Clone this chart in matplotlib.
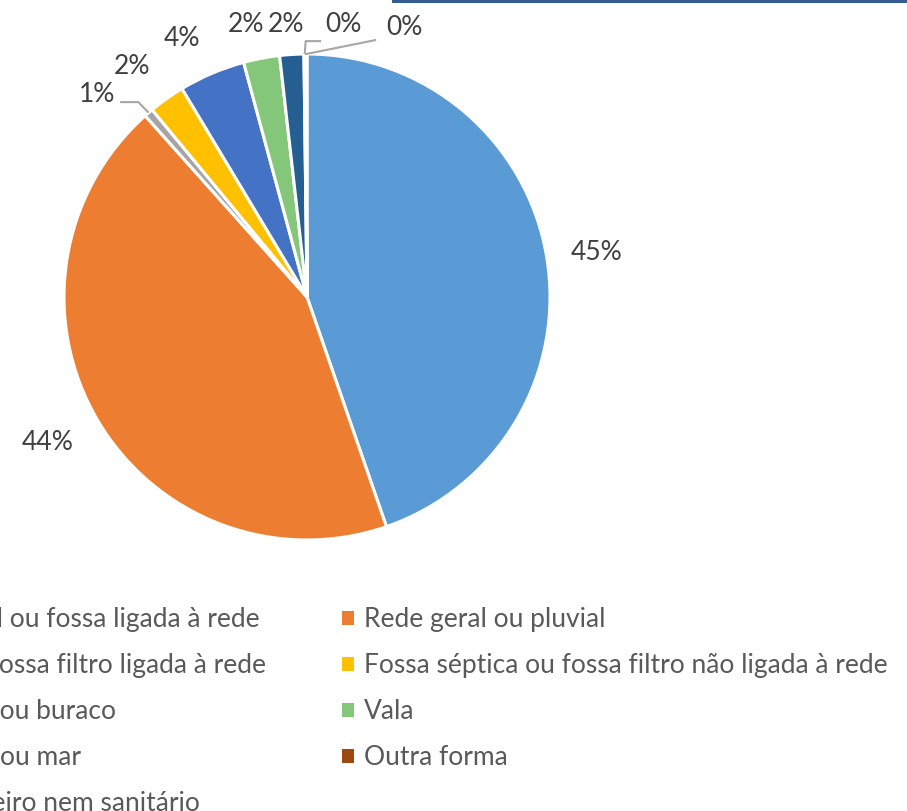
import numpy as np
import matplotlib.pyplot as plt
from matplotlib.patches import Patch, Rectangle

plt.rcParams['font.family'] = ['Lato', 'DejaVu Sans']

categorias = ['Rede geral, pluvial ou fossa ligada à rede',
              'Rede geral ou pluvial',
              'Fossa séptica ou fossa filtro ligada à rede',
              'Fossa séptica ou fossa filtro não ligada à rede',
              'Fossa rudimentar ou buraco',
              'Vala',
              'Rio, lago, córrego ou mar',
              'Outra forma',
              'Não tinham banheiro nem sanitário']
valores = [44.7, 43.7, 0.6, 2.4, 4.4, 2.4, 1.6, 0.1, 0.1]
cores = ['#5B9BD5', '#ED7D31', '#A5A5A5', '#FFC000', '#4472C4',
         '#84C67A', '#255E91', '#9E480E', '#636363']

# posicoes dos rotulos (unidades do raio)
pos_rotulos = [(1.193, 0.185), (-1.066, -0.597), (-0.864, 0.835),
               (-0.720, 0.950), (-0.516, 1.063), (-0.251, 1.123),
               (-0.086, 1.123), (0.152, 1.123), (0.400, 1.107)]

W, H = 907, 811
fig = plt.figure(figsize=(W / 100, H / 100), dpi=100)
R = 243.0
cx, cy = 307, 297
x0, x1, y0, y1 = -1.2, 2.4, -1.2, 1.3
ax = fig.add_axes([(cx + x0 * R) / W, (H - cy + y0 * R) / H,
                   (x1 - x0) * R / W, (y1 - y0) * R / H])

wedges, _ = ax.pie(valores, colors=cores, startangle=90, counterclock=False,
                   radius=1.0, wedgeprops=dict(edgecolor='white', linewidth=2.2))
ax.set_aspect('auto')
ax.set_xlim(x0, x1)
ax.set_ylim(y0, y1)
ax.axis('off')

total = sum(valores)
for i, (v, (lx, ly)) in enumerate(zip(valores, pos_rotulos)):
    ax.text(lx, ly, '%d%%' % round(v / total * 100), ha='center', va='center',
            fontsize=19, color='#404040')

# linhas de chamada
def ponto_borda(w):
    ang = np.deg2rad((w.theta1 + w.theta2) / 2)
    return np.cos(ang), np.sin(ang)

sx, sy = ponto_borda(wedges[2])
lx, ly = pos_rotulos[2]
ax.plot([sx, lx + 0.17, lx + 0.095], [sy, ly - 0.033, ly - 0.033],
        color='#A6A6A6', lw=1.5, solid_capstyle='butt')
sx, sy = ponto_borda(wedges[7])
lx, ly = pos_rotulos[7]
ax.plot([sx, sx + 0.004, lx - 0.094], [sy, ly - 0.07, ly - 0.07],
        color='#A6A6A6', lw=1.5, solid_capstyle='butt')
sx, sy = ponto_borda(wedges[8])
lx, ly = pos_rotulos[8]
ax.plot([sx, lx - 0.12], [sy, ly - 0.05], color='#A6A6A6', lw=1.5)

# legenda em duas colunas (a esquerda cortada)
esq = [0, 2, 4, 6, 8]
dir_ = [1, 3, 5, 7]
leg_kw = dict(fontsize=19, frameon=False, handlelength=0.45, handleheight=0.45,
              handletextpad=0.38, labelspacing=0.8, borderpad=0, borderaxespad=0,
              labelcolor='#595959')
topo = 1 - 607 / H
h_dir = [Patch(facecolor=cores[i], edgecolor='none') for i in dir_]
leg2 = fig.legend(h_dir, [categorias[i] for i in dir_], loc='upper left',
                  bbox_to_anchor=(342 / W, topo), **leg_kw)
h_esq = [Patch(facecolor=cores[i], edgecolor='none') for i in esq]
leg1 = fig.legend(h_esq, [categorias[i] for i in esq], loc='upper left',
                  bbox_to_anchor=(0.0, topo), **leg_kw)
fig.canvas.draw()
# fim visivel de cada linha na coluna cortada
fins_ref = [312, 253, 103, 65, 192]
fins = [t.get_window_extent().x1 for t in leg1.get_texts()]
desloc = np.mean(np.array(fins_ref) - np.array(fins))
leg1.set_bbox_to_anchor((desloc / W, topo))

# faixa azul no topo
fig.patches.append(Rectangle((392 / W, 1 - 2.5 / H), (W - 392) / W, 2.5 / H,
                             transform=fig.transFigure, facecolor='#355C91',
                             edgecolor='none'))

fig.savefig('out.png', dpi=100)
